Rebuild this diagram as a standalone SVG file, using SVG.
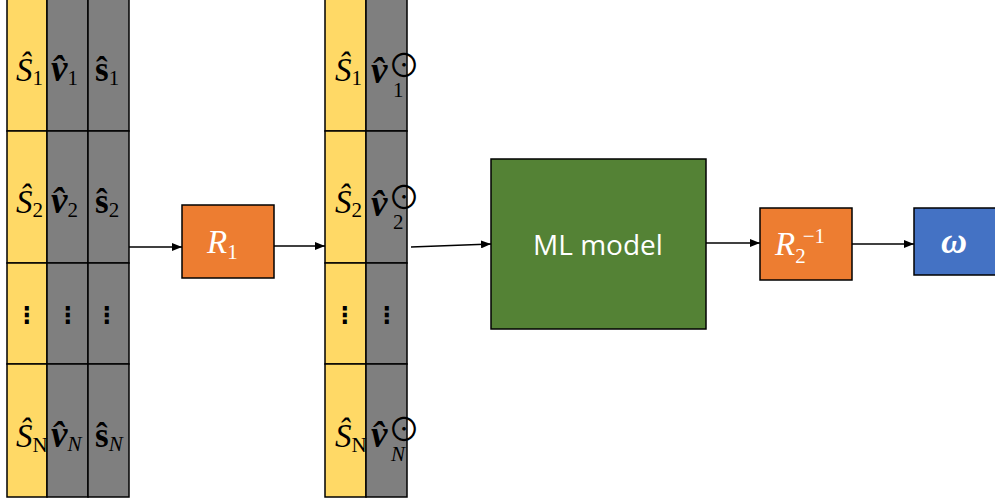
<svg xmlns="http://www.w3.org/2000/svg" width="995" height="503" viewBox="0 0 995 503">
  <style>
    .y { fill: #FFD966; stroke: #000; stroke-width: 1.5; }
    .g { fill: #7F7F7F; stroke: #000; stroke-width: 1.5; }
    .box { stroke: #000; stroke-width: 1.5; }
    .m { font-family: "Liberation Serif", "DejaVu Serif", serif; font-size: 33px; fill: #000; }
    .it { font-style: italic; }
    .bi { font-style: italic; font-weight: bold; font-size: 37px; }
    .b { font-weight: bold; font-size: 35px; }
    .sub { font-size: 21px; font-style: normal; font-weight: normal; }
    .subi { font-size: 21px; font-style: italic; font-weight: normal; }
    .dots { font-family: "DejaVu Sans", sans-serif; font-size: 23px; font-weight: bold; fill: #000; text-anchor: middle; }
    .odot { font-family: "Noto Sans CJK SC", "DejaVu Sans", sans-serif; font-size: 32px; font-style: normal; font-weight: normal; }
    .w { fill: #fff; }
    .lbl { font-family: "Open Sans", "Noto Sans", sans-serif; font-size: 28px; fill: #fff; text-anchor: middle; }
    .conn { stroke: #000; stroke-width: 1.5; fill: none; marker-end: url(#arrow); }
  </style>
  <defs>
    <marker id="arrow" markerWidth="10" markerHeight="8" refX="10" refY="4" orient="auto" markerUnits="userSpaceOnUse">
      <path d="M0,0 L10,4 L0,8 Z" fill="#000"/>
    </marker>
  </defs>

  <!-- input table: S, v, s per sample -->
  <g id="input-table">
    <rect class="y" x="7" y="-5" width="40" height="136"/>
    <rect class="y" x="7" y="131" width="40" height="132"/>
    <rect class="y" x="7" y="263" width="40" height="101"/>
    <rect class="y" x="7" y="364" width="40" height="133"/>
    <rect class="g" x="47" y="-5" width="41" height="136"/>
    <rect class="g" x="47" y="131" width="41" height="132"/>
    <rect class="g" x="47" y="263" width="41" height="101"/>
    <rect class="g" x="47" y="364" width="41" height="133"/>
    <rect class="g" x="88" y="-5" width="41" height="136"/>
    <rect class="g" x="88" y="131" width="41" height="132"/>
    <rect class="g" x="88" y="263" width="41" height="101"/>
    <rect class="g" x="88" y="364" width="41" height="133"/>

    <text class="m it" x="16" y="81">Ŝ<tspan class="sub" dy="4">1</tspan></text>
    <text class="m bi" x="51" y="81">v̂<tspan class="sub" dy="4">1</tspan></text>
    <text class="m b" x="95" y="81">ŝ<tspan class="sub" dy="4">1</tspan></text>

    <text class="m it" x="16" y="213">Ŝ<tspan class="sub" dy="4">2</tspan></text>
    <text class="m bi" x="51" y="213">v̂<tspan class="sub" dy="4">2</tspan></text>
    <text class="m b" x="95" y="213">ŝ<tspan class="sub" dy="4">2</tspan></text>

    <text class="dots" x="27" y="323">⋮</text>
    <text class="dots" x="68" y="323">⋮</text>
    <text class="dots" x="107" y="323">⋮</text>

    <text class="m it" x="16" y="447">Ŝ<tspan class="sub" dy="5">N</tspan></text>
    <text class="m bi" x="51" y="447">v̂<tspan class="subi" dy="4">N</tspan></text>
    <text class="m b" x="95" y="447">ŝ<tspan class="subi" dy="4">N</tspan></text>
  </g>

  <!-- rotation R1 -->
  <g id="r1">
    <rect class="box" x="182" y="205" width="92" height="73" fill="#ED7D31"/>
    <text class="m it w" x="207" y="253">R<tspan class="sub" dy="6">1</tspan></text>
  </g>

  <!-- rotated table: S, v with odot superscript per sample -->
  <g id="rotated-table">
    <rect class="y" x="325" y="-5" width="41" height="136"/>
    <rect class="y" x="325" y="131" width="41" height="132"/>
    <rect class="y" x="325" y="263" width="41" height="101"/>
    <rect class="y" x="325" y="364" width="41" height="133"/>
    <rect class="g" x="366" y="-5" width="41" height="136"/>
    <rect class="g" x="366" y="131" width="41" height="132"/>
    <rect class="g" x="366" y="263" width="41" height="101"/>
    <rect class="g" x="366" y="364" width="41" height="133"/>

    <text class="m it" x="335" y="81">Ŝ<tspan class="sub" dy="4">1</tspan></text>
    <text class="m bi" x="371" y="83">v̂<tspan class="odot" x="388" y="77">⊙</tspan><tspan class="sub" x="393" y="97">1</tspan></text>

    <text class="m it" x="335" y="213">Ŝ<tspan class="sub" dy="4">2</tspan></text>
    <text class="m bi" x="371" y="216">v̂<tspan class="odot" x="388" y="209">⊙</tspan><tspan class="sub" x="393" y="229">2</tspan></text>

    <text class="dots" x="345" y="323">⋮</text>
    <text class="dots" x="387" y="323">⋮</text>

    <text class="m it" x="335" y="447">Ŝ<tspan class="sub" dy="5">N</tspan></text>
    <text class="m bi" x="371" y="447">v̂<tspan class="odot" x="388" y="441">⊙</tspan><tspan class="subi" x="391" y="461">N</tspan></text>
  </g>

  <!-- learned model -->
  <g id="ml-model">
    <rect class="box" x="491" y="159" width="215" height="170" fill="#548235"/>
    <text class="lbl" x="598" y="255">ML model</text>
  </g>

  <!-- inverse rotation R2^-1 -->
  <g id="r2inv">
    <rect class="box" x="760" y="208" width="92" height="72" fill="#ED7D31"/>
    <text class="m it w" x="775" y="255">R<tspan class="sub" dy="8">2</tspan><tspan class="sub" dx="-3" dy="-20">−1</tspan></text>
  </g>

  <!-- output -->
  <g id="omega">
    <rect class="box" x="914" y="208" width="90" height="67" fill="#4472C4"/>
    <text class="m bi w" x="941" y="253" style="font-size:36px">ω</text>
  </g>

  <g id="connectors">
    <line class="conn" x1="129" y1="247" x2="182" y2="247"/>
    <line class="conn" x1="274" y1="246" x2="325" y2="246"/>
    <line class="conn" x1="411" y1="247" x2="491" y2="244"/>
    <line class="conn" x1="706" y1="243" x2="760" y2="243"/>
    <line class="conn" x1="852" y1="244" x2="914" y2="244"/>
  </g>
</svg>
